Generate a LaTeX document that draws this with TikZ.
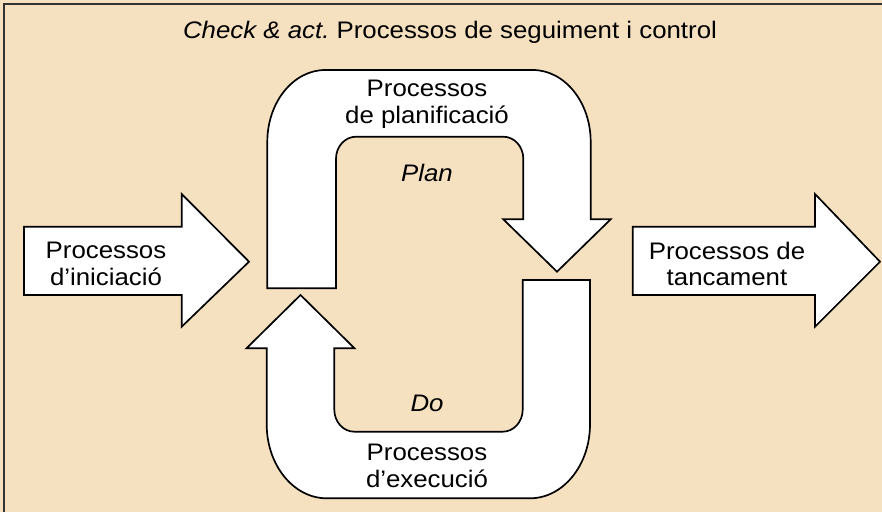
\documentclass[tikz,border=0pt]{standalone}
\usepackage{fontspec}
\setmainfont{Liberation Sans}[FakeStretch=1.08]
\definecolor{fons}{RGB}{245,224,192}
\frenchspacing

\begin{document}
\begin{tikzpicture}[line width=1.2pt, x=0.025cm, y=-0.025cm,
    fletxa/.style={draw=black, fill=white, line join=miter},
    rotul/.style={font=\fontsize{17}{19}\selectfont, align=center, inner sep=0pt}]
  \useasboundingbox (0,0) rectangle (882,512);
  \fill[fons] (0,0) rectangle (882,512);
  \draw[line width=1.6pt, draw=black!80] (4,530) -- (4,4) -- (900,4);
  % fletxes laterals
  \draw[fletxa] (24,226.7) -- (181.7,226.7) -- (181.7,194) -- (249,261.7) -- (181.7,326.7) -- (181.7,295) -- (24,295) -- cycle;
  \draw[fletxa] (632.7,226.7) -- (815,226.7) -- (815,194) -- (880,261.7) -- (815,326.7) -- (815,295) -- (632.7,295) -- cycle;
  % U superior
  \draw[fletxa] (336,288.3) -- (267.3,288.3) -- (267.3,142)
    arc[start angle=180, end angle=270, x radius=58, y radius=72] -- (532.7,70)
    arc[start angle=270, end angle=360, x radius=58, y radius=72] -- (590.7,219.3)
    -- (610.7,219.3) -- (557,271.7) -- (503.3,219.3) -- (523.3,219.3) -- (523.3,158.7)
    arc[start angle=0, end angle=-90, x radius=20, y radius=22] -- (356,136.7)
    arc[start angle=270, end angle=180, x radius=20, y radius=22] -- cycle;
  % U inferior
  \draw[fletxa] (522.7,280) -- (590,280) -- (590,424.3)
    arc[start angle=0, end angle=90, x radius=60, y radius=74] -- (326.7,498.3)
    arc[start angle=90, end angle=180, x radius=60, y radius=74] -- (266.7,348.3)
    -- (246.5,348.3) -- (300.5,295) -- (354.5,348.3) -- (334.3,348.3) -- (334.3,409.7)
    arc[start angle=180, end angle=90, x radius=20, y radius=22] -- (502.7,431.7)
    arc[start angle=90, end angle=0, x radius=20, y radius=22] -- cycle;
  \node[rotul] (titol) at (450,32) {\textit{Check \& act.} Processos de seguiment i control};
  \node[rotul] (inici) at (106,264) {Processos\\d’iniciació};
  \node[rotul] (tanca) at (727,264) {Processos de\\tancament};
  \node[rotul] (planif) at (427,104) {Processos\\de planificació};
  \node[rotul] (plan) at (427,173) {\textit{Plan}};
  \node[rotul] (fer) at (427,403) {\textit{Do}};
  \node[rotul] (execucio) at (427,466) {Processos\\d’execució};
\end{tikzpicture}
\end{document}
